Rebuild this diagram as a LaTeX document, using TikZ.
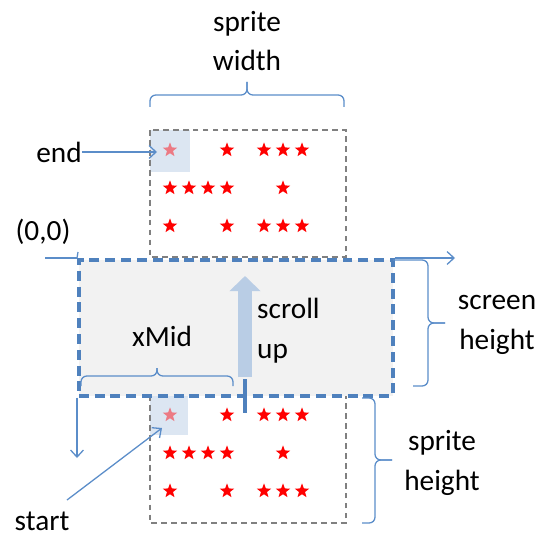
\documentclass[tikz,border=0pt]{standalone}
\usepackage{fontspec}
\setmainfont{Carlito}
\usetikzlibrary{arrows.meta}
\usetikzlibrary{shapes.geometric}
\definecolor{lineblue}{HTML}{4F81BD}
\definecolor{linkblue}{HTML}{5B8DC9}
\definecolor{screengray}{HTML}{F2F2F2}
\definecolor{cellblue}{HTML}{DCE6F2}
\definecolor{arrowblue}{HTML}{B9CDE5}
\definecolor{palered}{HTML}{EC7A84}

\tikzset{
  lbl/.style={font=\fontsize{25}{34}\selectfont, align=center, inner sep=0},
  spritebox/.style={draw=gray, line width=1.1pt, dash pattern=on 5pt off 3.5pt},
  screenbox/.style={fill=screengray, draw=lineblue, line width=3pt, dash pattern=on 8.5pt off 5pt,
    minimum width=9.42cm, minimum height=4.08cm, anchor=north west, inner sep=0},
  axisline/.style={draw=linkblue, line width=1.1pt},
  pointer/.style={axisline, -{Straight Barb[length=6pt,width=11pt]}},
  bracket/.style={draw=linkblue, line width=1.1pt, rounded corners=5pt},
  astar/.style={star, star points=5, star point ratio=2.4, fill=red, inner sep=0, minimum size=13pt},
}

\begin{document}
\begin{tikzpicture}[x=0.03cm, y=-0.03cm]
\useasboundingbox (0,0) rectangle (542,539);

% sprite boxes with their first cell
\fill[cellblue] (150,130) rectangle (190,172);
\fill[cellblue] (150,395) rectangle (188,435);
\draw[spritebox] (150,130) rectangle (346,257);
\draw[spritebox] (150,395) rectangle (346,523);

% the stars, top copy and bottom copy
\foreach \y/\s in {0/top, 265/bot} {
 \node[astar, fill=palered] (\s first) at (170,150+\y) {};
 \foreach \x [count=\i] in {227,264,283,302}
  \node[astar] (\s a\i) at (\x,150+\y) {};
 \foreach \x [count=\i] in {170,189,208,227,283}
  \node[astar] (\s b\i) at (\x,188+\y) {};
 \foreach \x [count=\i] in {170,227,264,283,302}
  \node[astar] (\s c\i) at (\x,226+\y) {};
}

% screen
\node[screenbox] (screen) at (77,258) {};

% axes
\coordinate (xstart) at (45,258);
\coordinate (xend) at (455,258);
\coordinate (ystart) at (78,252);
\coordinate (yend) at (77,458);
\draw[axisline] (xstart) -- (screen.north west);
\draw[pointer] (screen.north east) -- (xend);
\draw[axisline] (ystart) -- (screen.north west);
\draw[pointer] (screen.south west) -- (yend);

% scroll arrow
\draw[arrowblue, line width=12pt, -{Triangle[length=13pt,width=26pt]}] (245,377) -- (245,276);
\draw[lineblue, line width=3.5pt] (245,379) -- (245,413);

% labels
\node[lbl] (widthlbl) at (247,41) {sprite\\width};
\node[lbl] (endlbl) at (59,152) {end};
\node[lbl] (originlbl) at (43,232) {(0,0)};
\node[lbl] (xmidlbl) at (162,336) {xMid};
\node[lbl, align=left, anchor=west] (scrolllbl) at (257,331) {scroll\\up};
\node[lbl] (screenlbl) at (497,325) {screen\\height};
\node[lbl] (heightlbl) at (442,463) {sprite\\height};
\node[lbl] (startlbl) at (42,521) {start};

% braces
\draw[bracket] (150,107) |- (247,95) -- (247,82);
\draw[bracket] (344,107) |- (247,95) -- (247,82);
\draw[bracket] (81,386) |- (157,376) -- (157,368);
\draw[bracket] (233,386) |- (157,376) -- (157,368);
\draw[bracket] (393,260) -| (428,323) -- (445,323);
\draw[bracket] (413,386) -| (428,323) -- (445,323);
\draw[bracket] (362,398) -| (375,460) -- (392,460);
\draw[bracket] (362,523) -| (375,460) -- (392,460);

% pointers to the first cell
\coordinate (starttail) at (67,500);
\coordinate (starttip) at (162,428);
\coordinate (endtip) at (157,152);
\draw[pointer] (endlbl.east) -- (endtip);
\draw[pointer] (starttail) -- (starttip);
\end{tikzpicture}
\end{document}
